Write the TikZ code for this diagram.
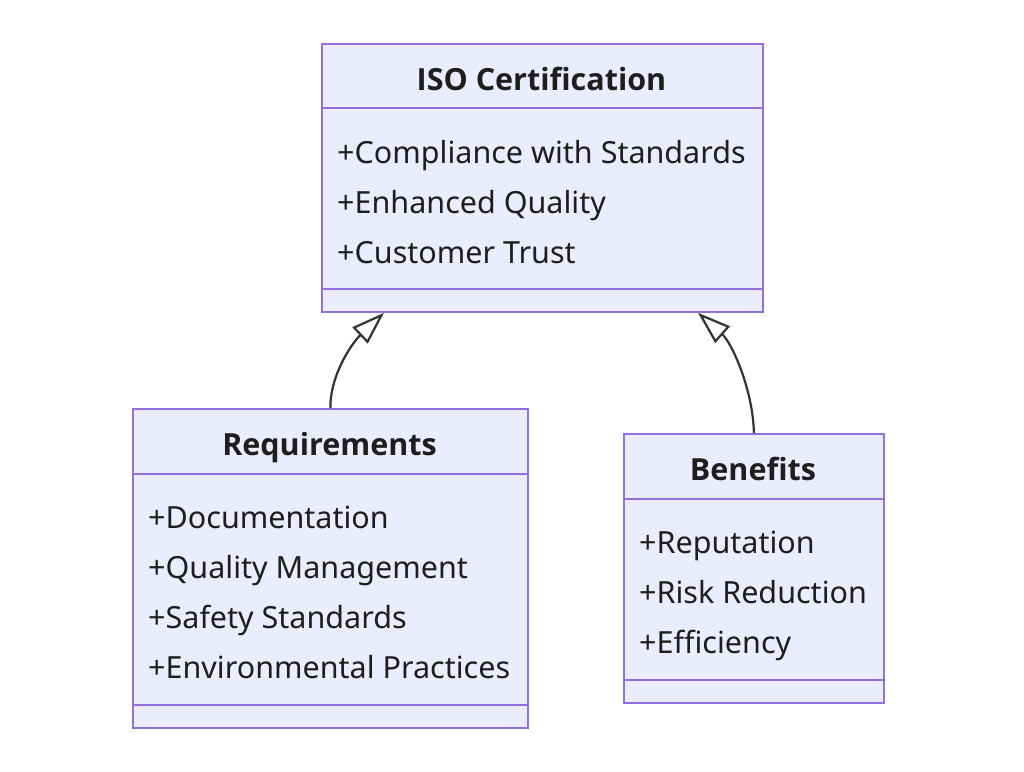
\documentclass[tikz,border=0pt]{standalone}
\usepackage{fontspec}
\setmainfont{Noto Sans}
\newfontfamily\titlefont{Open Sans}
\usetikzlibrary{arrows.meta,calc}
\definecolor{boxfill}{HTML}{ECECFF}
\definecolor{boxline}{HTML}{9370DB}
\definecolor{txt}{HTML}{1E1E1E}
\definecolor{edge}{HTML}{333333}
\tikzset{
  classbox/.style={draw=boxline, fill=boxfill, line width=1.8pt, inner sep=0pt, anchor=north west},
  classtitle/.style={font=\titlefont\fontsize{30.5}{36}\selectfont\bfseries, text=txt, anchor=base, inner sep=0pt},
  member/.style={font=\fontsize{30.5}{36}\selectfont, text=txt, anchor=base west, inner sep=0pt},
  divider/.style={draw=boxline, line width=1.8pt},
  inherit/.style={draw=edge, line width=2.2pt, -{Triangle[open, length=33pt, width=22pt, fill=white]}}
}
\begin{document}
\begin{tikzpicture}[x=1pt,y=-1pt]
\useasboundingbox[fill=white] (0,0) rectangle (1024,771);
% ISO Certification
\node[classbox, minimum width=441pt, minimum height=268pt] (iso) at (321,43) {};
\draw[divider] (321,108) -- (762,108);
\draw[divider] (321,289) -- (762,289);
\node[classtitle] (isot) at (541.5,90) {ISO Certification};
\node[member] (iso1) at (337,163) {+Compliance with Standards};
\node[member] (iso2) at (337,213) {+Enhanced Quality};
\node[member] (iso3) at (337,263) {+Customer Trust};
% Requirements
\node[classbox, minimum width=395pt, minimum height=319pt] (req) at (132,408) {};
\draw[divider] (132,474) -- (527,474);
\draw[divider] (132,705) -- (527,705);
\node[classtitle] (reqt) at (329.5,455) {Requirements};
\node[member] (req1) at (148,528) {+Documentation};
\node[member] (req2) at (148,578) {+Quality Management};
\node[member] (req3) at (148,628) {+Safety Standards};
\node[member] (req4) at (148,678) {+Environmental Practices};
% Benefits
\node[classbox, minimum width=260pt, minimum height=269pt] (ben) at (623,433) {};
\draw[divider] (623,499) -- (883,499);
\draw[divider] (623,680) -- (883,680);
\node[classtitle] (bent) at (753,480) {Benefits};
\node[member] (ben1) at (639,553) {+Reputation};
\node[member] (ben2) at (639,603) {+Risk Reduction};
\node[member] (ben3) at (639,653) {+Efficiency};
% connectors
\coordinate (tipL) at ($(iso.south west)+(63,0)$);
\coordinate (tipR) at ($(iso.south west)+(377,0)$);
\draw[inherit] (req.north) .. controls (330,375) and (352,343) .. (tipL);
\draw[inherit] (ben.north) .. controls (753,390) and (732,343) .. (tipR);
\end{tikzpicture}
\end{document}
